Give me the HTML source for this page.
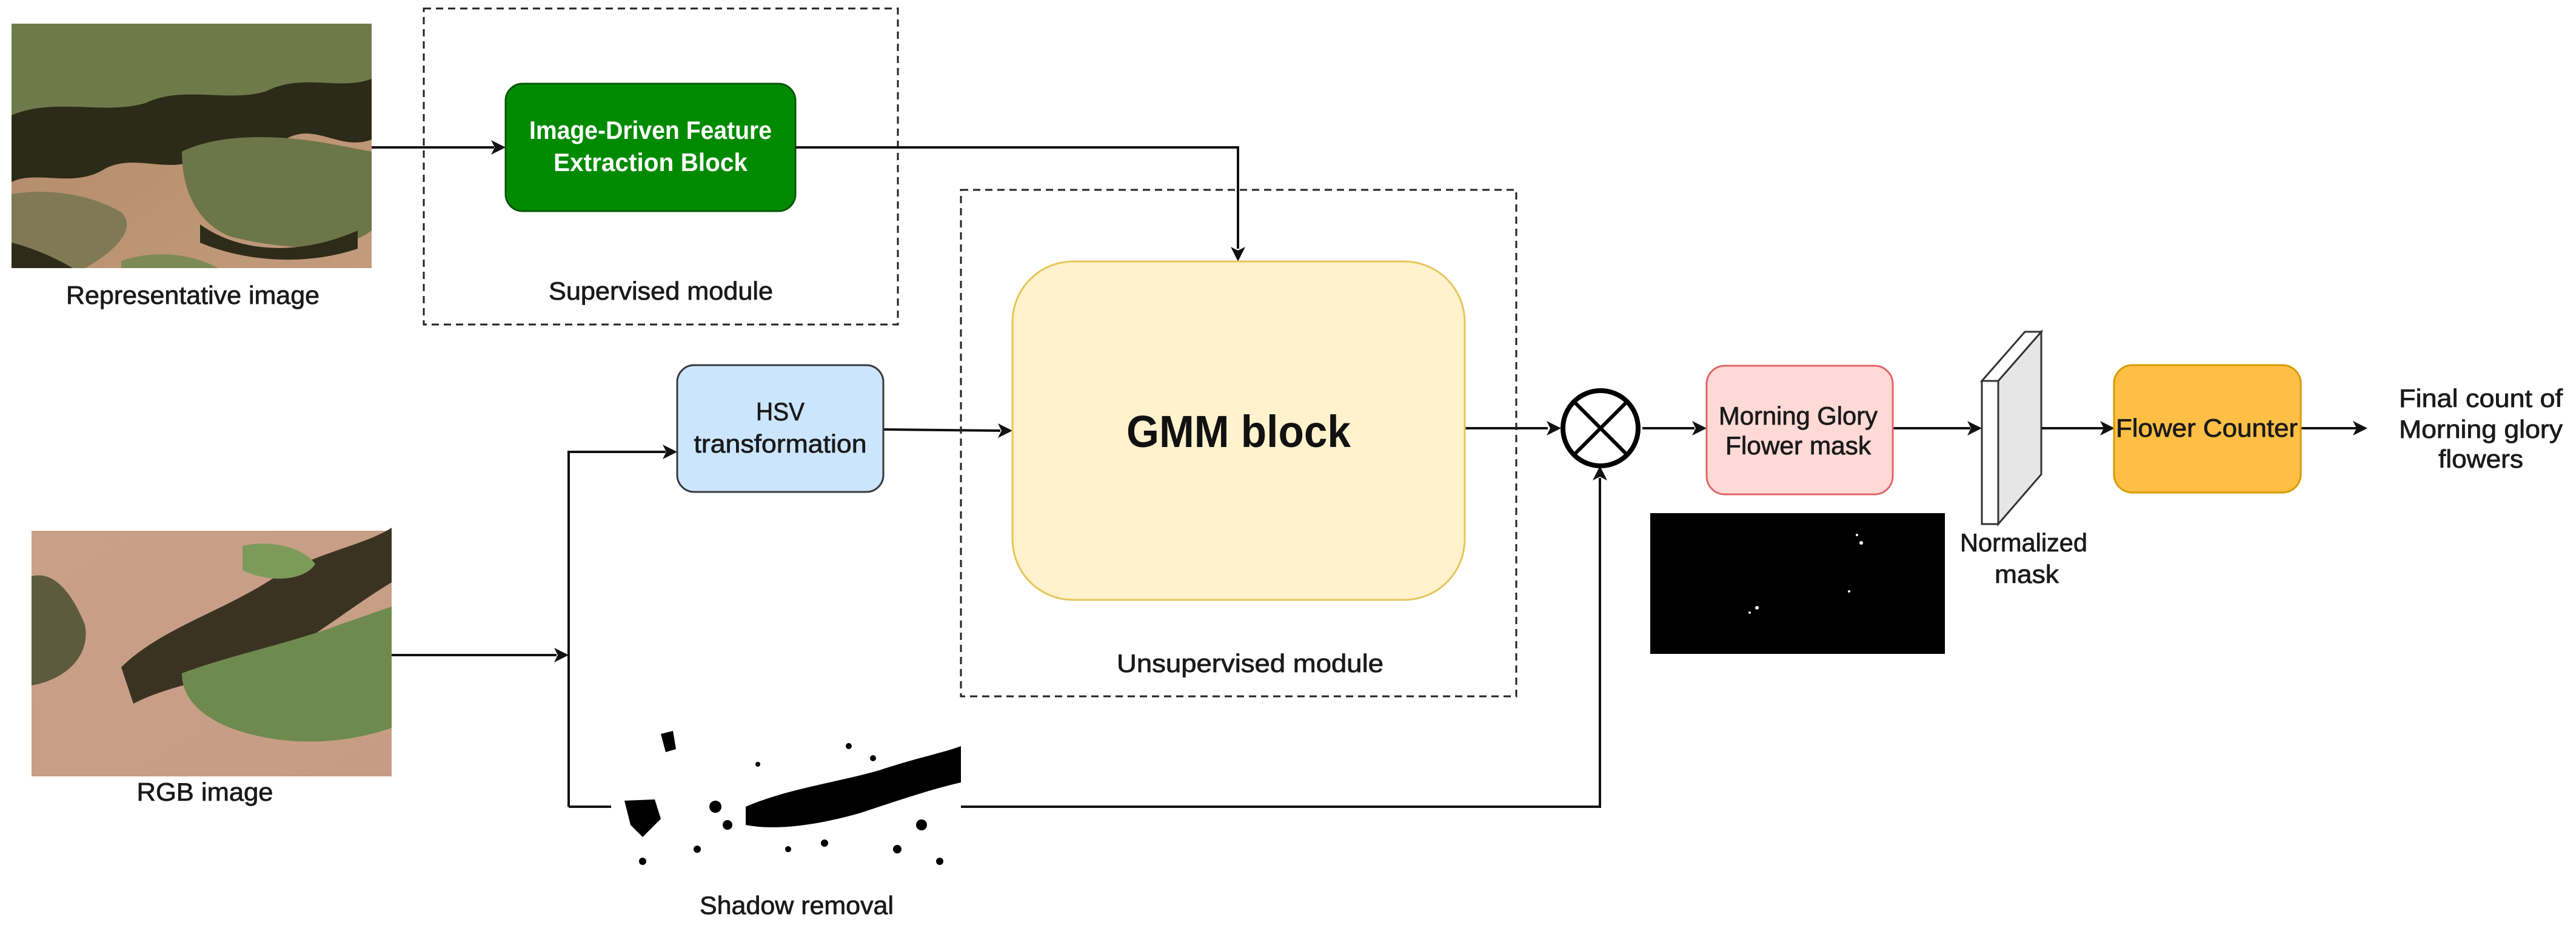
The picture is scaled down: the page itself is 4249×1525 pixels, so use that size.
<!DOCTYPE html>
<html><head><meta charset="utf-8"><style>
html,body{margin:0;padding:0;background:#fff;}
svg{display:block;font-family:"Liberation Sans",Arial,sans-serif;}
.lbl{font-size:42px;fill:#1a1a1a;text-anchor:middle;stroke:#1a1a1a;stroke-width:0.8;}
</style></head><body>
<svg width="4249" height="1525" viewBox="0 0 4249 1525" xmlns="http://www.w3.org/2000/svg">
<defs>
<linearGradient id="soil1" x1="0" y1="0" x2="1" y2="1"><stop offset="0" stop-color="#b08866"/><stop offset="1" stop-color="#c29c7c"/></linearGradient>
<linearGradient id="soil2" x1="0" y1="0" x2="1" y2="1"><stop offset="0" stop-color="#c9a088"/><stop offset="1" stop-color="#c69d84"/></linearGradient>
</defs>

<!-- Representative image -->
<g>
<rect x="19" y="39" width="594" height="403" fill="url(#soil1)"/>
<path d="M19 39 H613 V230 C560 250 520 200 470 230 C420 260 380 220 330 260 C280 290 220 250 170 280 C120 310 60 280 19 300 Z" fill="#2c2a18"/>
<path d="M19 39 H613 V130 C560 150 500 120 440 150 C380 170 300 140 240 170 C170 190 90 160 19 190 Z" fill="#6f7a4a"/>
<path d="M300 250 C360 220 460 220 560 240 L613 250 V380 C560 420 460 410 380 390 C330 370 300 320 300 250 Z" fill="#6c7648"/>
<path d="M330 370 C400 420 500 420 590 380 L590 410 C500 440 400 430 330 400 Z" fill="#2e2b1a"/>
<path d="M19 320 C80 310 150 320 200 350 C230 380 180 420 140 442 H19 Z" fill="#7f7a55"/>
<path d="M19 400 C60 410 100 430 120 442 H19 Z" fill="#2e2b1a"/>
<path d="M200 430 C260 410 320 420 360 442 H200 Z" fill="#7d8a55"/>
</g>
<text class="lbl" x="318" y="501" textLength="418" lengthAdjust="spacingAndGlyphs">Representative image</text>

<!-- Supervised dashed box -->
<rect x="699" y="14" width="782" height="521" fill="none" stroke="#222" stroke-width="3" stroke-dasharray="12,8"/>
<text class="lbl" x="1090" y="494" textLength="370" lengthAdjust="spacingAndGlyphs">Supervised module</text>

<!-- Green box -->
<rect x="834" y="138" width="478" height="210" rx="28" fill="#008a00" stroke="#005700" stroke-width="3"/>
<text x="1073" y="229" font-size="42" font-weight="bold" fill="#fff" text-anchor="middle" textLength="400" lengthAdjust="spacingAndGlyphs">Image-Driven Feature</text>
<text x="1073" y="282" font-size="42" font-weight="bold" fill="#fff" text-anchor="middle" textLength="320" lengthAdjust="spacingAndGlyphs">Extraction Block</text>

<g stroke="#111" stroke-width="4" fill="none">
<line x1="613" y1="243" x2="815" y2="243"/>
<polyline points="1312,243 2042,243 2042,410"/>
<line x1="1457" y1="708" x2="1650" y2="710"/>
<line x1="646" y1="1080" x2="918" y2="1080"/>
<polyline points="938,1330 938,745 1098,745"/>
<line x1="938" y1="1330" x2="1020" y2="1330"/>
<polyline points="1585,1330 2639,1330 2639,788"/>
<line x1="2416" y1="706" x2="2553" y2="706"/>
<line x1="2709" y1="706" x2="2795" y2="706"/>
<line x1="3122" y1="706" x2="3250" y2="706"/>
<line x1="3367" y1="706" x2="3470" y2="706"/>
<line x1="3795" y1="706" x2="3888" y2="706"/>
</g>
<g fill="#111">
<polygon points="834,243 810,231 816,243 810,255"/>
<polygon points="2042,431 2030,407 2042,413 2054,407"/>
<polygon points="1670,710 1646,698 1652,710 1646,722"/>
<polygon points="938,1080 914,1068 920,1080 914,1092"/>
<polygon points="1117,745 1093,733 1099,745 1093,757"/>
<polygon points="1040,1330 1016,1318 1022,1330 1016,1342"/>
<polygon points="2639,768 2627,792 2639,786 2651,792"/>
<polygon points="2575,706 2551,694 2557,706 2551,718"/>
<polygon points="2815,706 2791,694 2797,706 2791,718"/>
<polygon points="3269,706 3245,694 3251,706 3245,718"/>
<polygon points="3488,706 3464,694 3470,706 3464,718"/>
<polygon points="3905,706 3881,694 3887,706 3881,718"/>
</g>

<!-- Unsupervised dashed box -->
<rect x="1585" y="313" width="916" height="835" fill="none" stroke="#222" stroke-width="3" stroke-dasharray="12,8"/>
<text class="lbl" x="2062" y="1108" textLength="440" lengthAdjust="spacingAndGlyphs">Unsupervised module</text>

<!-- GMM -->
<rect x="1670" y="431" width="746" height="558" rx="100" fill="#fff2cc" stroke="#e6c55a" stroke-width="3"/>
<text x="2043" y="737" font-size="74" font-weight="bold" fill="#111" text-anchor="middle" textLength="370" lengthAdjust="spacingAndGlyphs">GMM block</text>

<!-- HSV -->
<rect x="1117" y="602" width="340" height="209" rx="28" fill="#cce5ff" stroke="#36393d" stroke-width="3"/>
<text class="lbl" x="1287" y="693" textLength="80" lengthAdjust="spacingAndGlyphs">HSV</text>
<text class="lbl" x="1287" y="746" textLength="285" lengthAdjust="spacingAndGlyphs">transformation</text>

<!-- RGB image -->
<g>
<rect x="52" y="875" width="594" height="405" fill="url(#soil2)"/>
<path d="M200 1100 C260 1040 360 1010 440 960 C520 910 600 900 646 870 V960 C580 1000 520 1050 460 1080 C380 1120 300 1120 220 1160 Z" fill="#3a3322"/>
<path d="M300 1110 C380 1080 480 1060 560 1030 L646 1000 V1200 C560 1230 460 1230 380 1200 C330 1180 300 1150 300 1110 Z" fill="#6f8a4e"/>
<path d="M52 950 C90 940 120 980 140 1030 C150 1080 110 1120 52 1130 Z" fill="#5e5a3e"/>
<path d="M400 900 C440 890 500 900 520 930 C500 960 440 960 400 940 Z" fill="#7e9a5a"/>
</g>
<text class="lbl" x="338" y="1320" textLength="225" lengthAdjust="spacingAndGlyphs">RGB image</text>

<!-- Shadow removal image -->
<g>
<rect x="1008" y="1196" width="577" height="263" fill="#fff"/>
<path d="M1230 1330 C1300 1300 1380 1290 1450 1270 C1510 1250 1560 1240 1585 1230 V1290 C1540 1300 1480 1320 1420 1340 C1350 1360 1280 1370 1230 1360 Z" fill="#000"/>
<path d="M1030 1320 L1080 1318 L1090 1350 L1060 1380 L1040 1360 Z" fill="#000"/>
<path d="M1090 1210 L1110 1205 L1115 1235 L1098 1240 Z" fill="#000"/>
<g fill="#000">
<circle cx="1180" cy="1330" r="10"/><circle cx="1200" cy="1360" r="8"/><circle cx="1150" cy="1400" r="6"/>
<circle cx="1520" cy="1360" r="9"/><circle cx="1480" cy="1400" r="7"/><circle cx="1400" cy="1230" r="5"/>
<circle cx="1360" cy="1390" r="6"/><circle cx="1300" cy="1400" r="5"/><circle cx="1060" cy="1420" r="6"/>
<circle cx="1550" cy="1420" r="6"/><circle cx="1250" cy="1260" r="4"/><circle cx="1440" cy="1250" r="5"/>
</g>
</g>
<text class="lbl" x="1314" y="1507" textLength="320" lengthAdjust="spacingAndGlyphs">Shadow removal</text>

<!-- Multiply circle -->
<circle cx="2640" cy="706" r="62" fill="#fff" stroke="#000" stroke-width="8"/>
<line x1="2596" y1="662" x2="2684" y2="750" stroke="#000" stroke-width="6"/>
<line x1="2684" y1="662" x2="2596" y2="750" stroke="#000" stroke-width="6"/>

<!-- Pink box -->
<rect x="2815" y="603" width="307" height="212" rx="30" fill="#ffd9d6" stroke="#e06666" stroke-width="3"/>
<text class="lbl" x="2966" y="700" textLength="262" lengthAdjust="spacingAndGlyphs">Morning Glory</text>
<text class="lbl" x="2966" y="749" textLength="240" lengthAdjust="spacingAndGlyphs">Flower mask</text>

<!-- black mask image -->
<rect x="2722" y="846" width="486" height="232" fill="#000"/>
<g fill="#fff"><circle cx="3070" cy="895" r="3"/><circle cx="3063" cy="882" r="2"/><circle cx="2898" cy="1002" r="3"/><circle cx="2886" cy="1010" r="2"/><circle cx="3050" cy="975" r="2"/></g>

<!-- Normalized mask slab -->
<polygon points="3296,628 3367,547 3367,782 3296,864" fill="#e6e6e6" stroke="#333" stroke-width="3"/>
<polygon points="3269,628 3340,547 3367,547 3296,628" fill="#fff" stroke="#333" stroke-width="3"/>
<rect x="3269" y="628" width="27" height="236" fill="#fff" stroke="#333" stroke-width="3"/>
<text class="lbl" x="3338" y="909" textLength="210" lengthAdjust="spacingAndGlyphs">Normalized</text>
<text class="lbl" x="3343" y="961" textLength="106" lengthAdjust="spacingAndGlyphs">mask</text>

<!-- Flower counter -->
<rect x="3487" y="602" width="308" height="210" rx="30" fill="#ffbf45" stroke="#d79b00" stroke-width="3"/>
<text class="lbl" x="3640" y="720" textLength="300" lengthAdjust="spacingAndGlyphs">Flower Counter</text>

<!-- Final count -->
<text class="lbl" x="4092" y="671" textLength="270" lengthAdjust="spacingAndGlyphs">Final count of</text>
<text class="lbl" x="4092" y="722" textLength="270" lengthAdjust="spacingAndGlyphs">Morning glory</text>
<text class="lbl" x="4092" y="771" textLength="140" lengthAdjust="spacingAndGlyphs">flowers</text>
</svg>
</body></html>
